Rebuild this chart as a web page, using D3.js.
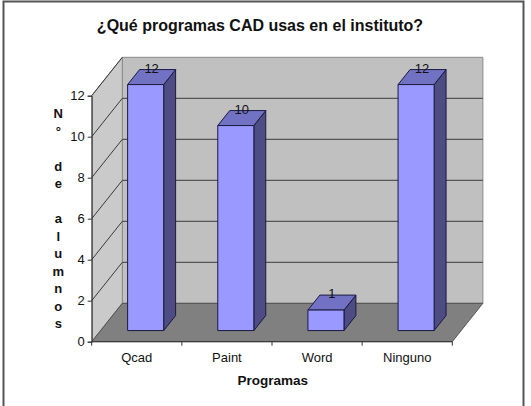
<!DOCTYPE html>
<html>
<head>
  <meta charset="utf-8">
  <script src="https://cdn.jsdelivr.net/npm/d3@7"></script>
  <style>
    body { margin: 0; background: #fff; }
    svg text { font-family: Arial, 'Liberation Sans', sans-serif; fill: #111; }
  </style>
</head>
<body>
  <svg id="chart" width="531" height="406"></svg>

  <script>
    var categories = ['Qcad', 'Paint', 'Word', 'Ninguno'];
    var values = [12, 10, 1, 12];
    var yTicks = [0, 2, 4, 6, 8, 10, 12];
    var title = '¿Qué programas CAD usas en el instituto?';
    var xTitle = 'Programas';
    var yTitle = 'N° de alumnos';

    var svg = d3.select('#chart');

    // plot box (front plane) and depth offset of the 3d walls
    var plotL = 91.7, plotR = 452.3, plotB = 341.7, plotT = 95.7;
    var depth = { dx: 30.6, dy: -38.4 };
    var f0 = 0.29, f1 = 0.68; // bar front/back as fraction of depth

    var x = d3.scaleBand()
      .domain(categories)
      .range([plotL, plotR])
      .paddingInner(0.6)
      .paddingOuter(0.3);

    var xCat = d3.scaleBand()
      .domain(categories)
      .range([plotL, plotR]);

    var y = d3.scaleLinear()
      .domain([0, 12])
      .range([plotB, plotT]);

    function pt(px, py, f) {
      return [px + depth.dx * f, py + depth.dy * f];
    }
    function poly(pts) {
      return 'M' + pts.map(p => p[0] + ',' + p[1]).join('L') + 'Z';
    }

    // outer frame
    svg.append('rect')
      .attr('x', 3.5).attr('y', 1.5)
      .attr('width', 520).attr('height', 410)
      .attr('fill', '#fff')
      .attr('stroke', '#555')
      .attr('stroke-width', 2);

    svg.append('text')
      .attr('x', 260).attr('y', 31)
      .attr('text-anchor', 'middle')
      .attr('font-size', 16)
      .attr('font-weight', 'bold')
      .text(title);

    // back wall
    svg.append('path')
      .attr('d', poly([pt(plotL, y(12), 1), pt(plotR, y(12), 1), pt(plotR, y(0), 1), pt(plotL, y(0), 1)]))
      .attr('fill', '#c0c0c0')
      .attr('stroke', '#8a8a8a');

    // side wall
    svg.append('path')
      .attr('d', poly([[plotL, y(0)], [plotL, y(12)], pt(plotL, y(12), 1), pt(plotL, y(0), 1)]))
      .attr('fill', '#cacaca')
      .attr('stroke', '#8a8a8a');

    // floor
    svg.append('path')
      .attr('d', poly([[plotL, y(0)], [plotR, y(0)], pt(plotR, y(0), 1), pt(plotL, y(0), 1)]))
      .attr('fill', '#808080')
      .attr('stroke', '#404040')
      .attr('stroke-width', 0.8);

    // gridlines on back and side walls
    var grid = svg.append('g')
      .attr('stroke', '#3a3a3a')
      .attr('stroke-width', 1)
      .attr('fill', 'none');

    grid.selectAll('.gb')
      .data(yTicks.filter(d => d > 0 && d < 12))
      .join('line')
      .attr('x1', pt(plotL, 0, 1)[0])
      .attr('x2', pt(plotR, 0, 1)[0])
      .attr('y1', d => pt(0, y(d), 1)[1])
      .attr('y2', d => pt(0, y(d), 1)[1]);

    grid.selectAll('.gs')
      .data(yTicks.filter(d => d > 0))
      .join('line')
      .attr('x1', plotL)
      .attr('y1', d => y(d))
      .attr('x2', pt(plotL, 0, 1)[0])
      .attr('y2', d => pt(0, y(d), 1)[1]);

    // axes
    svg.append('g')
      .attr('transform', 'translate(' + plotL + ',0)')
      .call(d3.axisLeft(y).tickValues(yTicks).tickSize(4).tickPadding(3))
      .call(g => g.selectAll('path, line').attr('stroke', '#333'))
      .call(g => g.selectAll('text')
        .attr('font-size', 13)
        .attr('font-family', 'Arial, Liberation Sans, sans-serif')
        .attr('fill', '#222'));

    var xb = svg.append('g').attr('transform', 'translate(0,' + plotB + ')');
    xb.append('line')
      .attr('x1', plotL).attr('x2', plotR)
      .attr('stroke', '#333');
    xb.selectAll('.tk')
      .data(categories.concat([null]))
      .join('line')
      .attr('x1', d => d ? xCat(d) : plotR)
      .attr('x2', d => d ? xCat(d) : plotR)
      .attr('y2', 4)
      .attr('stroke', '#333');
    xb.selectAll('.lb')
      .data(categories)
      .join('text')
      .attr('x', d => xCat(d) + xCat.bandwidth() / 2)
      .attr('y', 20)
      .attr('text-anchor', 'middle')
      .attr('font-size', 13)
      .attr('fill', '#222')
      .text(d => d);

    svg.append('text')
      .attr('x', 272.7).attr('y', 385)
      .attr('text-anchor', 'middle')
      .attr('font-size', 13.5)
      .attr('font-weight', 'bold')
      .text(xTitle);

    // stacked vertical axis title
    svg.append('text')
      .attr('font-size', 13)
      .attr('font-weight', 'bold')
      .attr('text-anchor', 'middle')
      .selectAll('tspan')
      .data(yTitle.split(''))
      .join('tspan')
      .attr('x', 58.3)
      .attr('y', (d, i) => 118 + i * 17.5)
      .text(d => d === ' ' ? '\u00a0' : d);

    // bars
    var bars = svg.selectAll('.bar')
      .data(categories.map((c, i) => ({ c: c, v: values[i] })))
      .join('g');

    bars.each(function (d) {
      var g = d3.select(this);
      var x0 = x(d.c), x1 = x(d.c) + x.bandwidth();
      var yt = y(d.v), yb = y(0);
      var a = pt(x0, yb, f0), b = pt(x1, yb, f0), c = pt(x1, yt, f0), e = pt(x0, yt, f0);
      var b2 = pt(x1, yb, f1), c2 = pt(x1, yt, f1), e2 = pt(x0, yt, f1);
      g.append('path').attr('d', poly([b, b2, c2, c]))
        .attr('fill', '#4d4d83').attr('stroke', '#1a1a40').attr('stroke-width', 1);
      g.append('path').attr('d', poly([e, c, c2, e2]))
        .attr('fill', '#7272c4').attr('stroke', '#1a1a40').attr('stroke-width', 1);
      g.append('path').attr('d', poly([a, b, c, e]))
        .attr('fill', '#9999ff').attr('stroke', '#1a1a40').attr('stroke-width', 1);
      g.append('text')
        .attr('x', (x0 + x1) / 2 + depth.dx * (f0 + f1) / 2)
        .attr('y', e2[1] + 3)
        .attr('text-anchor', 'middle')
        .attr('font-size', 13)
        .attr('fill', '#333')
        .text(d.v);
    });
  </script>
</body>
</html>
